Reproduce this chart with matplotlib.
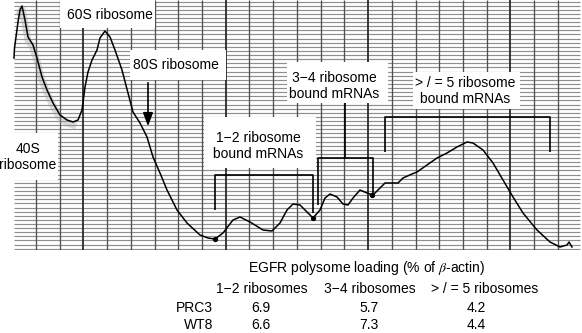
import matplotlib
matplotlib.use("Agg")
import matplotlib.pyplot as plt
import numpy as np
from matplotlib.patches import Rectangle

plt.rcParams['font.family'] = ['Liberation Sans', 'DejaVu Sans']
plt.rcParams['mathtext.fontset'] = 'stix'

# ---- polysome trace (position along gradient, recorder deflection; chart units, y grows downward) ----
trace_x = [14, 14.5, 16, 18, 20, 22, 25, 28, 33, 37, 42, 47, 53, 60, 67, 73, 78, 82, 85, 88, 92, 97,
           100, 105, 110, 115, 122, 128, 133, 140, 147, 153, 160, 167, 177, 187, 200, 208, 215,
           223, 233, 240, 250, 263, 272, 280, 287, 293, 300, 307, 313, 320, 325, 330, 337, 343,
           348, 353, 360, 367, 373, 380, 385, 393, 398, 403, 412, 417, 427, 437, 447, 457, 467,
           473, 483, 493, 503, 513, 523, 537, 550, 560, 567, 569, 572]
trace_y = [58, 48, 37, 22, 10, 6, 20, 37, 45, 58, 77, 90, 103, 115, 120, 122, 120, 110, 87, 72, 60, 50,
           38, 31, 37, 50, 70, 93, 112, 123, 137, 157, 173, 190, 210, 223, 235, 238, 239,
           233, 220, 217, 222, 230, 231, 223, 210, 204, 205, 212, 218, 210, 198, 194, 197, 204,
           205, 198, 190, 193, 195, 188, 183, 183, 183, 178, 174, 172, 165, 158, 153, 147, 142,
           143, 150, 163, 180, 197, 213, 230, 242, 247, 245, 242, 247]
mark_x = [215, 313, 372]
mark_y = [239, 218, 195]

# ---- labels ----
peak_labels = ["60S ribosome", "80S ribosome", "40S\nribosome"]
fraction_labels = ["1\u22122 ribosome\nbound mRNAs", "3\u22124 ribosome\nbound mRNAs",
                   "> / = 5 ribosome\nbound mRNAs"]

# ---- table ----
table_title = "EGFR polysome loading (% of $\\beta$-actin)"
col_headers = ["1\u22122 ribosomes", "3\u22124 ribosomes", "> / = 5 ribosomes"]
row_labels = ["PRC3", "WT8"]
prc3_values = [6.9, 5.7, 4.2]
wt8_values = [6.6, 7.3, 4.4]

W, H = 582, 333
fig = plt.figure(figsize=(W / 100, H / 100), dpi=100)
ax = fig.add_axes([0, 0, 1, 1])
ax.set_xlim(0, W)
ax.set_ylim(H, 0)
ax.axis('off')

# chart paper grid
grid_left, grid_right, grid_top, grid_bot = 14, 580, 0, 249
for k, yy in enumerate(np.arange(1.5, grid_bot, 4.12)):
    ax.plot([grid_left, grid_right], [yy, yy], color='#8f8f8f', lw=0.85, zorder=1,
            solid_capstyle='butt')
for k, xx in enumerate(np.arange(36, grid_right + 1, 23.72)):
    heavy = (k - 2) % 6 == 0
    ax.plot([xx, xx], [grid_top, grid_bot + 1], color='#2a2a2a' if heavy else '#505050',
            lw=1.3 if heavy else 0.95, zorder=1.2, solid_capstyle='butt')

# white label boxes
boxes = [(60, 0, 95, 28), (130, 50, 96, 30), (0, 133, 58, 47), (204, 117, 112, 51),
         (287, 62, 101, 41), (413, 72, 107, 37)]
for bx, by, bw, bh in boxes:
    ax.add_patch(Rectangle((bx, by), bw, bh, facecolor='white', edgecolor='none', zorder=2))
ax.add_patch(Rectangle((0, 250), W, H - 250, facecolor='white', edgecolor='none', zorder=2))

# faint smudge of the recorder pen
ax.plot(trace_x[4:16], np.array(trace_y[4:16]) + 3, color='#999999', lw=5, alpha=0.35, zorder=2.5)

# trace
ax.plot(trace_x, trace_y, color='black', lw=1.1, zorder=4, solid_joinstyle='round')
ax.plot(mark_x, mark_y, 'o', color='black', ms=2.8, zorder=5)

# brackets
bk = dict(color='black', lw=1.2, zorder=4, solid_capstyle='butt')
ax.plot([215, 215, 313, 313], [210, 175, 175, 213], **bk)
ax.plot([318, 318, 373, 373], [205, 158, 158, 193], **bk)
ax.plot([345, 345], [103, 158], **bk)
ax.plot([385, 385, 550, 550], [152, 117, 117, 152], **bk)

# 80S arrow
ax.annotate('', xy=(148, 129), xytext=(148, 80),
            arrowprops=dict(arrowstyle='-|>,head_length=0.8,head_width=0.3', color='black', lw=1.2),
            zorder=5)

fs = 10
ax.text(110, 15, peak_labels[0], fontsize=fs, ha='center', va='center', zorder=6)
ax.text(176, 65, peak_labels[1], fontsize=fs, ha='center', va='center', zorder=6)
ax.text(28, 157, peak_labels[2], fontsize=fs, ha='center', va='center', zorder=6, linespacing=1.15)
ax.text(258, 146, fraction_labels[0], fontsize=fs, ha='center', va='center', zorder=6, linespacing=1.15)
ax.text(334, 86, fraction_labels[1], fontsize=fs, ha='center', va='center', zorder=6, linespacing=1.15)
ax.text(465, 91, fraction_labels[2], fontsize=fs, ha='center', va='center', zorder=6, linespacing=1.15)

# table
col_x = [262, 370, 485]
val_x = [261, 369, 476]
ax.text(367, 268, table_title, fontsize=fs, ha='center', va='center', zorder=6)
for cx, h in zip(col_x, col_headers):
    ax.text(cx, 289, h, fontsize=fs, ha='center', va='center', zorder=6)
for ry, lab, vals in zip([308, 325], row_labels, [prc3_values, wt8_values]):
    ax.text(213, ry, lab, fontsize=fs, ha='right', va='center', zorder=6)
    for vx, v in zip(val_x, vals):
        ax.text(vx, ry, f"{v:.1f}", fontsize=fs, ha='center', va='center', zorder=6)

fig.savefig('out.png', dpi=100)
